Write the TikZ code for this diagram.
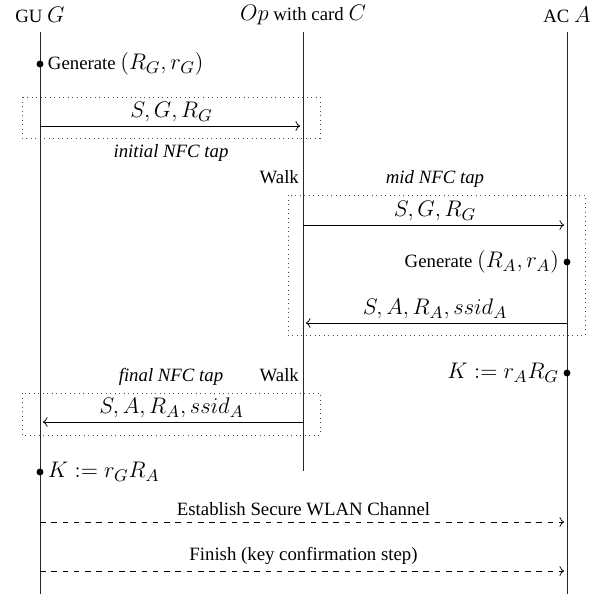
\documentclass[tikz,border=0pt]{standalone}
\usepackage{fontspec}
\setmainfont[Scale=0.8]{Liberation Serif}
\usetikzlibrary{arrows.meta,positioning}

\begin{document}
\fontsize{12.5}{15}\selectfont
\begin{tikzpicture}[x=0.532pt,y=-0.532pt,
 head/.style={inner sep=2pt},
 life/.style={draw=black!85},
 msg/.style={->,shorten >=1.5pt},
 wlan/.style={->,dashed,shorten >=1.5pt},
 tap/.style={draw=black!70,dotted},
 tapname/.style={font=\itshape,inner sep=2pt},
 ev/.style={circle,fill=black,inner sep=1.3pt},
 lbl/.style={above,inner sep=2pt},
 note/.style={inner sep=2pt}]
\useasboundingbox (0,0) rectangle (608,594);
\node[head] (gu) at (40,15) {GU $G$};
\node[head] (op) at (303,15) {$Op$ with card $C$};
\node[head] (ac) at (567,15) {AC $A$};
\coordinate (G) at (40,32);
\coordinate (C) at (303,32);
\coordinate (A) at (567,32);
\coordinate (Gend) at (40,594);
\coordinate (Cend) at (303,471);
\coordinate (Aend) at (567,594);
\draw[life] (G) -- (Gend);
\draw[life] (C) -- (Cend);
\draw[life] (A) -- (Aend);
\node[ev] (genG) at (G |- 0,64) {};
\node[note,anchor=west] (genGtxt) at (genG.east) {Generate $(R_G,r_G)$};
\draw[tap] (22,97) rectangle (320,138);
\draw[msg] (G |- 0,126) -- node[lbl] {$S,G,R_G$} (C |- 0,126);
\node[tapname] (tap1) at (171,153) {initial NFC tap};
\node[note,anchor=east] (walk1) at (C |- 0,177) {Walk};
\node[tapname] (tap2) at (435,179) {mid NFC tap};
\draw[tap] (288,195) rectangle (585,335);
\draw[msg] (C |- 0,225) -- node[lbl] {$S,G,R_G$} (A |- 0,225);
\node[ev] (genA) at (A |- 0,262) {};
\node[note,anchor=east] (genAtxt) at (genA.west) {Generate $(R_A,r_A)$};
\draw[msg] (A |- 0,323) -- node[lbl] {$S,A,R_A,ssid_A$} (C |- 0,323);
\node[ev] (keyA) at (A |- 0,373) {};
\node[note,anchor=east] (keyAtxt) at (keyA.west) {$K:=r_AR_G$};
\node[note,anchor=east] (walk2) at (C |- 0,375) {Walk};
\node[tapname] (tap3) at (171,377) {final NFC tap};
\draw[tap] (22,393) rectangle (320,435);
\draw[msg] (C |- 0,422) -- node[lbl] {$S,A,R_A,ssid_A$} (G |- 0,422);
\node[ev] (keyG) at (G |- 0,472) {};
\node[note,anchor=west] (keyGtxt) at (keyG.east) {$K:=r_GR_A$};
\draw[wlan] (G |- 0,522) -- node[above] {Establish Secure WLAN Channel} (A |- 0,522);
\draw[wlan] (G |- 0,571) -- node[above] {Finish (key confirmation step)} (A |- 0,571);
\end{tikzpicture}
\end{document}
